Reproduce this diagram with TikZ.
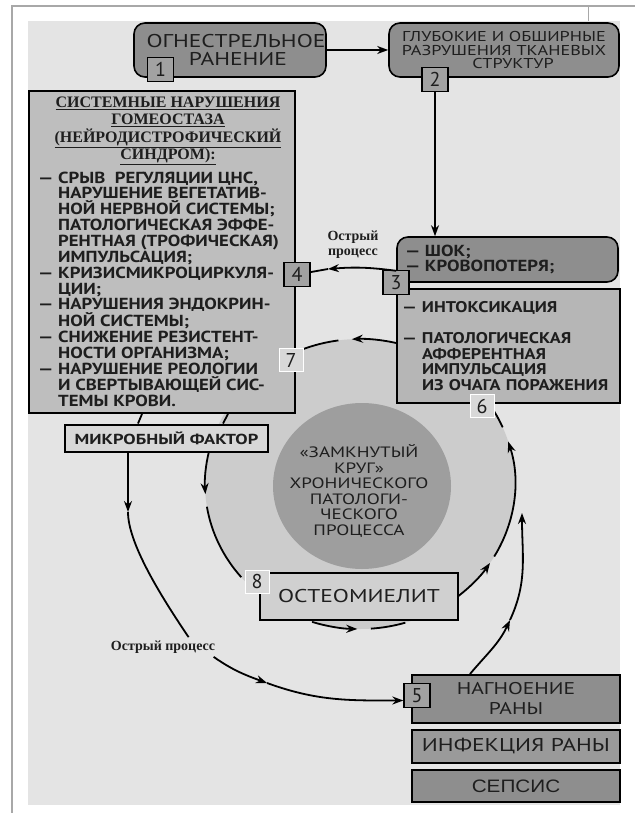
\documentclass[tikz,border=0pt]{standalone}
\usepackage{fontspec}
\setmainfont{PT Sans}
\newfontfamily\shirokij[FakeStretch=1.27]{PT Sans}
\newfontfamily\shirokijm[FakeStretch=1.1]{PT Sans}
\newfontfamily\shirokijb[FakeStretch=1.17]{PT Sans}
\newfontfamily\zagol{Liberation Serif}
\newfontfamily\grotesk[FakeStretch=1.15]{Liberation Sans}
\usepackage{tikz}
\usetikzlibrary{positioning}
\usetikzlibrary{shapes.geometric}
\usetikzlibrary{arrows.meta}
\usetikzlibrary{calc}

\definecolor{fon}{HTML}{E4E4E4}
\definecolor{ramka}{HTML}{A8A8A8}
\definecolor{temnyj}{HTML}{8E8E8E}
\definecolor{temnyjb}{HTML}{9A9A9A}
\definecolor{srednij}{HTML}{BEBEBE}
\definecolor{srednijb}{HTML}{B6B6B6}
\definecolor{svetlyj}{HTML}{D8D8D8}
\definecolor{svetlyjb}{HTML}{D0D0D0}
\definecolor{krugsvet}{HTML}{CCCCCC}
\definecolor{krugtem}{HTML}{9E9E9E}
\definecolor{nomerfon}{HTML}{A2A2A2}
\definecolor{tekst}{HTML}{1E1E1E}

\tikzset{
  okrblok/.style={draw=black, line width=1.6pt, rounded corners=11pt, fill=temnyj, text=tekst, align=center, inner sep=0pt},
  blok/.style={draw=black, line width=2pt, text=tekst, inner sep=0pt},
  nomer/.style={draw=black, line width=1.3pt, fill=nomerfon, minimum width=26pt, minimum height=24pt, inner sep=0pt, text=tekst, font=\fontsize{20}{20}\selectfont},
  nomersvet/.style={draw=white, line width=0.8pt, fill=svetlyj, minimum width=24pt, minimum height=23pt, inner sep=0pt, text=tekst, font=\fontsize{20}{20}\selectfont},
  orbita/.style={x radius=155pt, y radius=145pt},
  strelka/.style={line width=1.8pt},
  >={Stealth[length=11pt, width=8pt]}
}

\begin{document}
\begin{tikzpicture}[x=1pt, y=1pt]
  \useasboundingbox (0,0) rectangle (635,-813);
  % фон
  \draw[ramka, line width=1.2pt] (12,-813) -- (12,-6) -- (635,-6);
  \draw[ramka, line width=0.8pt] (588,-6) -- (588,-22);
  \fill[fon] (28,-21) rectangle (620,-805);

  % круг
  \node[ellipse, fill=krugsvet, minimum width=310pt, minimum height=290pt, inner sep=0pt] (krug) at (360,-484) {};
  \node[ellipse, fill=krugtem, minimum width=178pt, minimum height=166pt, inner sep=0pt] (yadro) at (362,-486) {};
  \node[text=tekst, align=center, font=\shirokij\fontsize{15}{15.6}\selectfont] (zamknutyj) at (359,-491) {«ЗАМКНУТЫЙ\\КРУГ»\\ХРОНИЧЕСКОГО\\ПАТОЛОГИ-\\ЧЕСКОГО\\ПРОЦЕССА};

  % дуги круга
  \draw[->, strelka] ($(krug.center)+(76:155pt and 145pt)$) arc[orbita, start angle=76, end angle=93];
  \draw[strelka] ($(krug.center)+(98:155pt and 145pt)$) arc[orbita, start angle=98, end angle=112];
  \draw[->, strelka] ($(krug.center)+(167:155pt and 145pt)$) arc[orbita, start angle=167, end angle=184];
  \draw[strelka] ($(krug.center)+(189:155pt and 145pt)$) arc[orbita, start angle=189, end angle=220];
  \draw[->, strelka] ($(krug.center)+(252:155pt and 145pt)$) arc[orbita, start angle=252, end angle=269];
  \draw[strelka] ($(krug.center)+(274:155pt and 145pt)$) arc[orbita, start angle=274, end angle=287];
  \draw[->, strelka] ($(krug.center)+(309:155pt and 145pt)$) arc[orbita, start angle=309, end angle=327];
  \draw[->, strelka] ($(krug.center)+(330:155pt and 145pt)$) arc[orbita, start angle=330, end angle=377];
  \draw[strelka] ($(krug.center)+(23:155pt and 145pt)$) arc[orbita, start angle=23, end angle=30];

  % блоки
  \node[okrblok, minimum width=192pt, minimum height=54pt, font=\shirokij\fontsize{18.5}{18.5}\selectfont] (ogn) at (230,-50) {ОГНЕСТРЕЛЬНОЕ\hspace*{-12pt}\\РАНЕНИЕ\hspace*{-16pt}};
  \node[okrblok, minimum width=230pt, minimum height=54pt, font=\shirokij\fontsize{14.3}{13.5}\selectfont] (razr) at (504,-50) {ГЛУБОКИЕ И ОБШИРНЫЕ\\РАЗРУШЕНИЯ ТКАНЕВЫХ\\СТРУКТУР\hspace*{-18pt}};

  \node[blok, fill=srednij, minimum width=266pt, minimum height=322pt] (sist) at (162,-252) {};
  \node[text=tekst, align=center, font=\zagol\bfseries\fontsize{16}{17.3}\selectfont] (titul) at (168,-131) {\underline{СИСТЕМНЫЕ НАРУШЕНИЯ}\\\underline{ГОМЕОСТАЗА}\\\underline{(НЕЙРОДИСТРОФИЧЕСКИЙ}\\\underline{СИНДРОМ):}};
  \node[text=tekst, align=left, anchor=west, inner sep=0pt, font=\shirokijb\bfseries\fontsize{16}{15.86}\selectfont] (spisok) at (38,-289) {%
    \makebox[20pt][l]{—}СРЫВ\ \ РЕГУЛЯЦИИ ЦНС,\\
    \hspace*{20pt}НАРУШЕНИЕ ВЕГЕТАТИВ-\\
    \hspace*{20pt}НОЙ НЕРВНОЙ СИСТЕМЫ;\\
    \hspace*{20pt}ПАТОЛОГИЧЕСКАЯ ЭФФЕ-\\
    \hspace*{20pt}РЕНТНАЯ (ТРОФИЧЕСКАЯ)\\
    \hspace*{20pt}ИМПУЛЬСАЦИЯ;\\
    \makebox[20pt][l]{—}КРИЗИСМИКРОЦИРКУЛЯ-\\
    \hspace*{20pt}ЦИИ;\\
    \makebox[20pt][l]{—}НАРУШЕНИЯ ЭНДОКРИН-\\
    \hspace*{20pt}НОЙ СИСТЕМЫ;\\
    \makebox[20pt][l]{—}СНИЖЕНИЕ РЕЗИСТЕНТ-\\
    \hspace*{20pt}НОСТИ ОРГАНИЗМА;\\
    \makebox[20pt][l]{—}НАРУШЕНИЕ РЕОЛОГИИ\\
    \hspace*{20pt}И СВЕРТЫВАЮЩЕЙ СИС-\\
    \hspace*{20pt}ТЕМЫ КРОВИ.};

  \node[okrblok, minimum width=221pt, minimum height=45pt, text width=205pt, align=left, font=\shirokijb\bfseries\fontsize{16}{15}\selectfont] (shok) at (507.5,-259.5) {\makebox[20pt][l]{—}ШОК;\\\makebox[20pt][l]{—}КРОВОПОТЕРЯ;};
  \node[blok, fill=srednijb, minimum width=223pt, minimum height=114pt, text width=213pt, align=left, font=\shirokijb\bfseries\fontsize{15.5}{15.6}\selectfont] (intoks) at (508.5,-346) {%
    \makebox[20pt][l]{—}ИНТОКСИКАЦИЯ\\[15.6pt]
    \makebox[20pt][l]{—}ПАТОЛОГИЧЕСКАЯ\\
    \hspace*{20pt}АФФЕРЕНТНАЯ\\
    \hspace*{20pt}ИМПУЛЬСАЦИЯ\\
    \hspace*{20pt}ИЗ ОЧАГА ПОРАЖЕНИЯ};

  \node[blok, fill=svetlyj, minimum width=203pt, minimum height=27pt, font=\shirokij\bfseries\fontsize{14.5}{14.5}\selectfont] (mikrob) at (166.5,-438) {МИКРОБНЫЙ ФАКТОР};
  \node[blok, fill=svetlyjb, minimum width=198pt, minimum height=47pt, font=\shirokij\fontsize{18.5}{18.5}\selectfont] (osteo) at (359,-596.5) {ОСТЕОМИЕЛИТ};
  \node[blok, fill=temnyj, minimum width=208pt, minimum height=48pt, align=center, font=\shirokij\fontsize{17}{20}\selectfont] (nagn) at (516,-699) {НАГНОЕНИЕ\\РАНЫ};
  \node[blok, fill=temnyjb, minimum width=208pt, minimum height=33pt, font=\shirokij\fontsize{18.5}{18.5}\selectfont] (infek) at (516,-746.5) {ИНФЕКЦИЯ РАНЫ};
  \node[blok, fill=temnyj, minimum width=208pt, minimum height=32pt, font=\grotesk\fontsize{18}{18}\selectfont] (sepsis) at (516,-786) {СЕПСИС};

  % номера
  \node[nomer] (num1) at (160.5,-69.5) {1};
  \node[nomer] (num2) at (435,-79.5) {2};
  \node[nomer] (num3) at (396,-282.5) {3};
  \node[nomer] (num4) at (297,-274.5) {4};
  \node[nomer] (num5) at (417,-695.5) {5};
  \node[nomersvet] (num6) at (482,-406) {6};
  \node[nomersvet] (num7) at (291,-360) {7};
  \node[nomersvet] (num8) at (257,-581.5) {8};

  % подписи
  \node[text=tekst, align=center, font=\zagol\bfseries\fontsize{14}{15}\selectfont] (ostr1) at (353,-245) {Острый\\процесс};
  \node[text=tekst, font=\zagol\bfseries\fontsize{14}{15}\selectfont] (ostr2) at (163,-647) {Острый процесс};

  % стрелки
  \coordinate (a3) at (328,-269);
  \coordinate (m1) at (128,-512);
  \coordinate (m2) at (267,-683);
  \coordinate (b1) at (510,-620);
  \coordinate (b2) at (522,-513);

  \draw[->, strelka] (ogn) -- (razr);
  \draw[->, strelka] (num2.south) -- (num2.south |- shok.north);
  \draw[->, strelka] ([yshift=12pt]shok.south west) to[bend right=6] (a3);
  \draw[strelka] (a3) -- (num4);
  \draw[strelka] ([xshift=-20pt]sist.south) -- ([xshift=-28.5pt]mikrob.north);
  \draw[strelka] ([xshift=66pt]sist.south) -- ([xshift=56.5pt]mikrob.north);
  \draw[->, strelka] (m1 |- mikrob.south) -- (m1);
  \draw[strelka] (m1) .. controls (128,-542) and (158,-592) .. ([xshift=-30pt]ostr2.north east);
  \draw[->, strelka] ([xshift=-5pt]ostr2.south east) to[out=-35, in=160] (m2);
  \draw[->, strelka] (m2) to[out=-20, in=180] ([yshift=-5pt]num5.west);
  \draw[->, strelka] ([xshift=-46pt]nagn.north) to[out=50, in=-115] (b1);
  \draw[->, strelka] (b1) to[out=65, in=-90] (b2);
\end{tikzpicture}
\end{document}
